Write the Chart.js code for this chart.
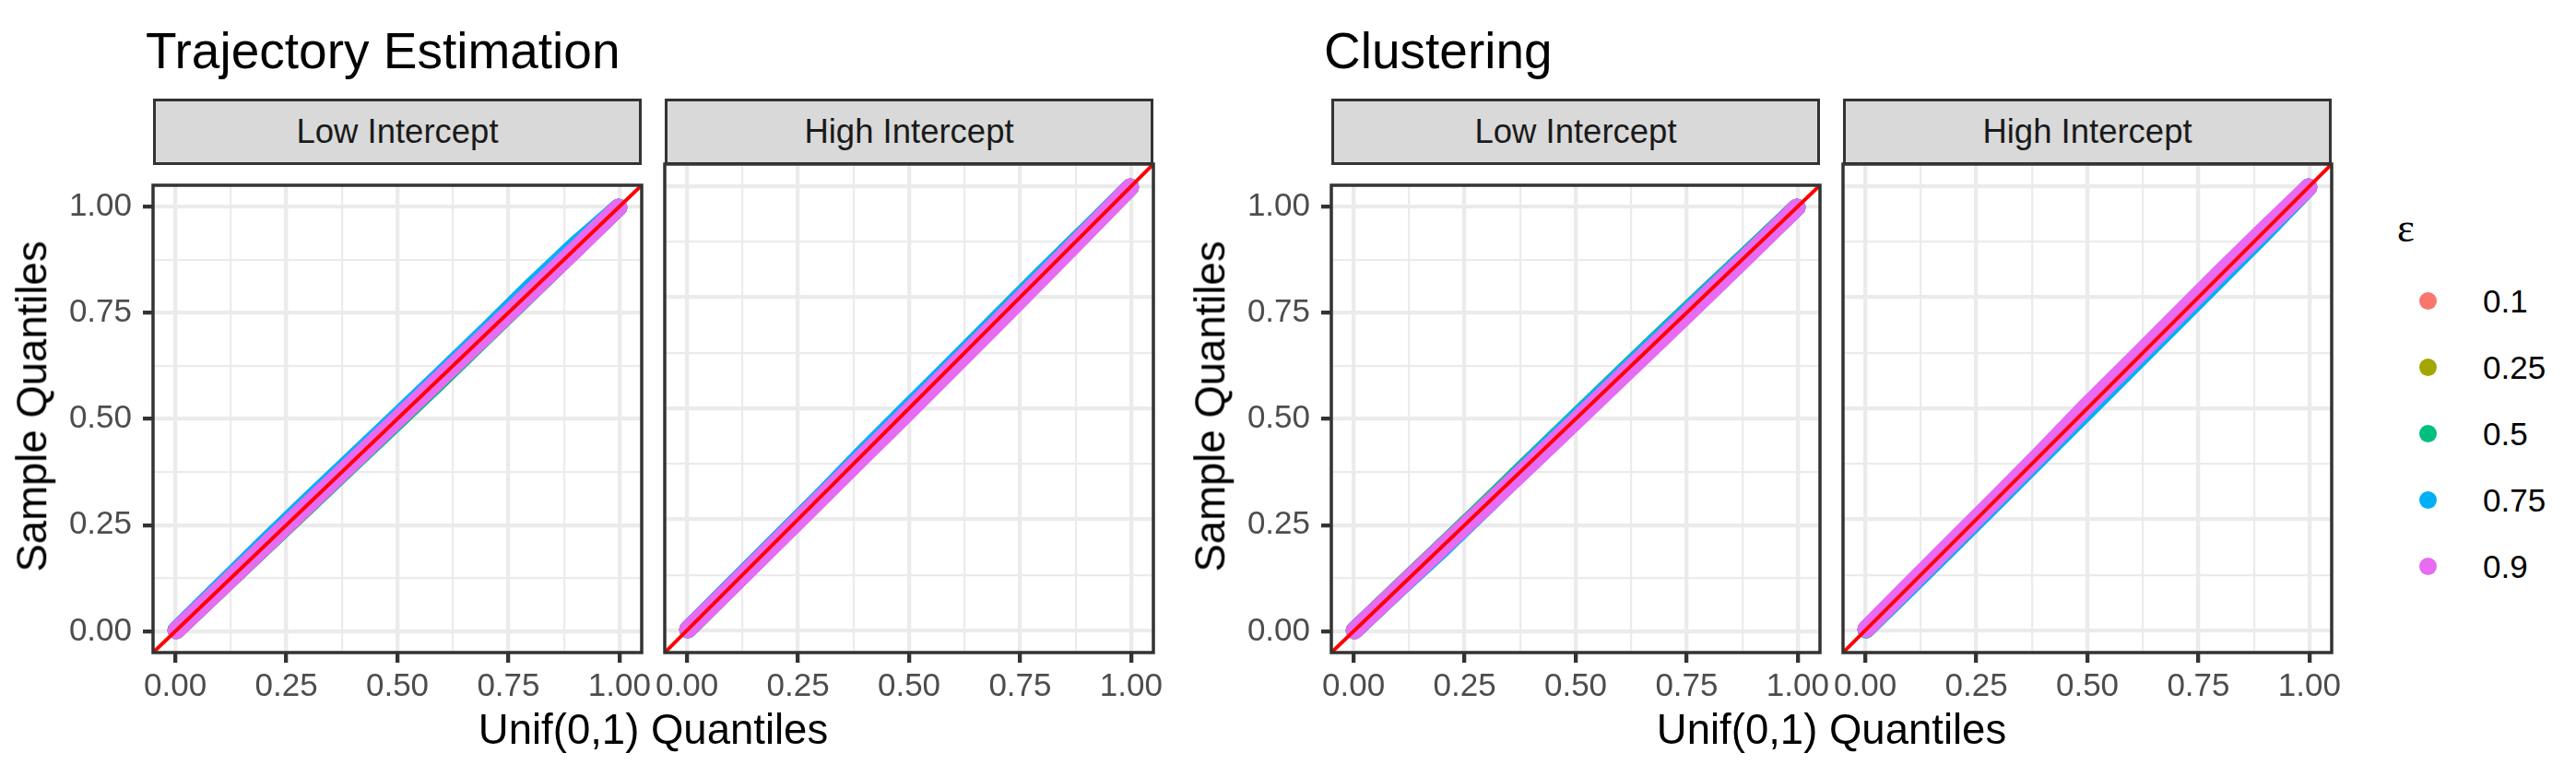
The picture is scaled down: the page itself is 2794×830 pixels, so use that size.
<!DOCTYPE html>
<html><head><meta charset="utf-8">
<script src="https://cdn.jsdelivr.net/npm/chart.js@4.4.1/dist/chart.umd.min.js"></script>
<style>
html,body{margin:0;padding:0;background:#fff;}
#page{position:relative;width:2794px;height:830px;overflow:hidden;font-family:"Liberation Sans",Arial,sans-serif;background:#fff;}
canvas{position:absolute;}
.txt{position:absolute;white-space:nowrap;line-height:1;}
.strip{position:absolute;box-sizing:border-box;background:#D9D9D9;border:3.5px solid #333333;color:#1A1A1A;font-size:36.5px;line-height:1;display:flex;align-items:center;justify-content:center;}
.dot{position:absolute;width:19px;height:19px;border-radius:50%;}
</style></head>
<body><div id="page"></div>
<script>
// ---------------- data ----------------
const unifQuantiles = [0.002, 0.1, 0.2, 0.3, 0.4, 0.5, 0.6, 0.7, 0.8, 0.9, 0.998];
const epsLabels = ['0.1', '0.25', '0.5', '0.75', '0.9'];
const epsColors = ['#F8766D', '#A3A500', '#00BF7D', '#00B0F6', '#E76BF3'];
const tickValues = [0, 0.25, 0.5, 0.75, 1];
const tickLabels = ['0.00', '0.25', '0.50', '0.75', '1.00'];
const minorValues = [0.125, 0.375, 0.625, 0.875];
const refLine = [-0.05, 1.05];
const facetLabels = ['Low Intercept', 'High Intercept'];
const plotTitles = ['Trajectory Estimation', 'Clustering'];

// Trajectory Estimation, Low Intercept
const trajLow_01  = [0.002, 0.100, 0.199, 0.299, 0.400, 0.500, 0.600, 0.700, 0.800, 0.900, 0.998];
const trajLow_025 = [0.002, 0.099, 0.198, 0.297, 0.397, 0.496, 0.596, 0.697, 0.798, 0.899, 0.998];
const trajLow_05  = [0.002, 0.099, 0.198, 0.297, 0.396, 0.495, 0.594, 0.696, 0.797, 0.899, 0.998];
const trajLow_075 = [0.003, 0.104, 0.207, 0.308, 0.407, 0.506, 0.606, 0.707, 0.810, 0.909, 0.998];
const trajLow_09  = [0.002, 0.099, 0.199, 0.299, 0.399, 0.499, 0.599, 0.698, 0.798, 0.898, 0.998];
// Trajectory Estimation, High Intercept
const trajHigh_01  = [0.002, 0.099, 0.198, 0.297, 0.397, 0.497, 0.597, 0.697, 0.797, 0.898, 0.998];
const trajHigh_025 = [0.002, 0.099, 0.198, 0.297, 0.397, 0.498, 0.599, 0.701, 0.802, 0.900, 0.998];
const trajHigh_05  = [0.002, 0.100, 0.199, 0.299, 0.400, 0.501, 0.602, 0.703, 0.803, 0.901, 0.998];
const trajHigh_075 = [0.002, 0.100, 0.200, 0.300, 0.403, 0.503, 0.602, 0.702, 0.802, 0.900, 0.998];
const trajHigh_09  = [0.002, 0.098, 0.197, 0.296, 0.395, 0.494, 0.594, 0.694, 0.795, 0.897, 0.998];
// Clustering, Low Intercept
const clustLow_01  = [0.002, 0.099, 0.198, 0.298, 0.398, 0.498, 0.598, 0.698, 0.798, 0.899, 0.998];
const clustLow_025 = [0.002, 0.100, 0.199, 0.299, 0.401, 0.502, 0.603, 0.703, 0.803, 0.901, 0.998];
const clustLow_05  = [0.002, 0.100, 0.200, 0.300, 0.402, 0.503, 0.604, 0.704, 0.803, 0.901, 0.998];
const clustLow_075 = [0.002, 0.098, 0.194, 0.295, 0.399, 0.501, 0.602, 0.702, 0.801, 0.900, 0.998];
const clustLow_09  = [0.002, 0.099, 0.198, 0.296, 0.395, 0.495, 0.595, 0.695, 0.796, 0.897, 0.998];
// Clustering, High Intercept
const clustHigh_01  = [0.002, 0.100, 0.200, 0.300, 0.400, 0.500, 0.600, 0.700, 0.800, 0.900, 0.998];
const clustHigh_025 = [0.002, 0.099, 0.198, 0.298, 0.398, 0.497, 0.597, 0.697, 0.797, 0.898, 0.998];
const clustHigh_05  = [0.002, 0.099, 0.197, 0.297, 0.397, 0.496, 0.596, 0.696, 0.796, 0.897, 0.998];
const clustHigh_075 = [0.002, 0.097, 0.196, 0.295, 0.395, 0.495, 0.595, 0.695, 0.795, 0.896, 0.998];
const clustHigh_09  = [0.003, 0.102, 0.202, 0.302, 0.403, 0.507, 0.606, 0.706, 0.806, 0.904, 0.998];

// ---------------- layout ----------------
const page = document.getElementById('page');
const FONT = '"Liberation Sans", Arial, sans-serif';
Chart.defaults.font.family = FONT;
const PANEL = 530, PANEL_TOP = 178;
const panels = [
  {left: 166,  showY: true,  facet: 0, series: [trajLow_01, trajLow_025, trajLow_05, trajLow_075, trajLow_09]},
  {left: 721,  showY: false, facet: 1, series: [trajHigh_01, trajHigh_025, trajHigh_05, trajHigh_075, trajHigh_09]},
  {left: 1444, showY: true,  facet: 0, series: [clustLow_01, clustLow_025, clustLow_05, clustLow_075, clustLow_09]},
  {left: 1999, showY: false, facet: 1, series: [clustHigh_01, clustHigh_025, clustHigh_05, clustHigh_075, clustHigh_09]}
];

function addText(str, opts) {
  const d = document.createElement('div');
  d.className = 'txt';
  d.textContent = str;
  d.style.fontSize = opts.size + 'px';
  d.style.color = opts.color || '#000';
  if (opts.family) d.style.fontFamily = opts.family;
  if (opts.baseline !== undefined) d.style.top = (opts.baseline - 0.8465 * opts.size) + 'px';
  if (opts.top !== undefined) d.style.top = opts.top + 'px';
  if (opts.left !== undefined) d.style.left = opts.left + 'px';
  page.appendChild(d);
  return d;
}

const isMajor = v => tickValues.some(t => Math.abs(t - v) < 1e-9);
const allGrid = tickValues.concat(minorValues).sort((a, b) => a - b);

const panelBorder = {
  id: 'panelBorder',
  afterDraw(chart) {
    const {ctx, chartArea: a} = chart;
    ctx.save();
    ctx.strokeStyle = '#333333';
    ctx.lineWidth = 3.5;
    ctx.strokeRect(a.left, a.top, a.right - a.left, a.bottom - a.top);
    ctx.restore();
  }
};

function gridOpts(drawTicks) {
  return {
    color: '#EBEBEB',
    lineWidth: c => (c.tick && isMajor(c.tick.value)) ? 4.3 : 2.2,
    drawTicks: drawTicks,
    tickLength: 11,
    tickWidth: 4.3,
    tickColor: c => (c.tick && isMajor(c.tick.value)) ? '#333333' : 'rgba(0,0,0,0)'
  };
}
function tickCb(v) {
  const i = tickValues.findIndex(t => Math.abs(t - v) < 1e-9);
  return i >= 0 ? tickLabels[i] : '';
}

panels.forEach(p => {
  const yW = p.showY ? 110 : 0;
  const padL = p.showY ? 0 : 20, padR = 20, padT = 10, xH = 60;
  const c = document.createElement('canvas');
  c.width = padL + yW + PANEL + padR;
  c.height = padT + PANEL + xH;
  c.style.left = (p.left - yW - padL) + 'px';
  c.style.top = (PANEL_TOP - padT) + 'px';
  page.appendChild(c);

  const datasets = p.series.map((ys, i) => ({
    label: epsLabels[i],
    data: unifQuantiles.map((x, j) => ({x: x, y: ys[j]})),
    showLine: true,
    borderColor: epsColors[i],
    backgroundColor: epsColors[i],
    borderWidth: 19,
    borderCapStyle: 'round',
    borderJoinStyle: 'round',
    pointRadius: 0,
    tension: 0,
    order: 10 - i
  }));
  datasets.push({
    label: 'y = x',
    data: refLine.map(v => ({x: v, y: v})),
    showLine: true,
    borderColor: '#FF0000',
    borderWidth: 4,
    pointRadius: 0,
    order: 0
  });

  new Chart(c, {
    type: 'scatter',
    data: {datasets},
    options: {
      responsive: false,
      animation: false,
      events: [],
      layout: {padding: {left: padL, right: padR, top: padT, bottom: 0}},
      plugins: {legend: {display: false}, tooltip: {enabled: false}},
      scales: {
        x: {
          type: 'linear', min: -0.05, max: 1.05,
          afterBuildTicks: s => { s.ticks = allGrid.map(v => ({value: v})); },
          afterFit: s => { s.height = xH; },
          grid: gridOpts(true),
          border: {display: false},
          ticks: {callback: tickCb, autoSkip: false, maxRotation: 0, minRotation: 0,
                  color: '#4D4D4D', font: {size: 35, family: FONT}, padding: 5}
        },
        y: {
          type: 'linear', min: -0.05, max: 1.05,
          afterBuildTicks: s => { s.ticks = allGrid.map(v => ({value: v})); },
          afterFit: s => { s.width = yW; },
          grid: gridOpts(p.showY),
          border: {display: false},
          ticks: {display: p.showY, callback: tickCb, autoSkip: false,
                  color: '#4D4D4D', font: {size: 35, family: FONT}, padding: 12}
        }
      }
    },
    plugins: [panelBorder]
  });

  // facet strip
  const s = document.createElement('div');
  s.className = 'strip';
  s.style.left = p.left + 'px';
  s.style.top = '107px';
  s.style.width = PANEL + 'px';
  s.style.height = '72px';
  s.textContent = facetLabels[p.facet];
  page.appendChild(s);
});

// titles
addText(plotTitles[0], {size: 55, left: 158, baseline: 75});
addText(plotTitles[1], {size: 55, left: 1436, baseline: 75});

// axis titles
[[166, 1251, 35], [1444, 2529, 1313]].forEach(([l, r, yx]) => {
  const xt = addText('Unif(0,1) Quantiles', {size: 45.5, baseline: 808, left: (l + r) / 2});
  xt.style.transform = 'translateX(-50%)';
  const yt = addText('Sample Quantiles', {size: 45.5, left: yx, top: 441});
  yt.style.transform = 'translate(-50%,-50%) rotate(-90deg)';
});

// legend
addText('\u03B5', {size: 45, left: 2600, baseline: 263, family: '"Liberation Serif", "DejaVu Serif", serif'});
const legendY = [326, 398, 470, 542, 614];
epsLabels.forEach((lab, i) => {
  const d = document.createElement('div');
  d.className = 'dot';
  d.style.background = epsColors[i];
  d.style.left = (2633 - 9.5) + 'px';
  d.style.top = (legendY[i] - 9.5) + 'px';
  page.appendChild(d);
  addText(lab, {size: 35, left: 2693, baseline: legendY[i] + 12.5});
});
</script>
</body></html>
